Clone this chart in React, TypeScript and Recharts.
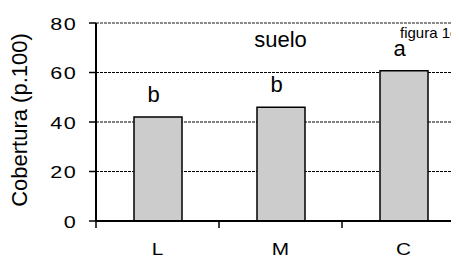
import React from 'react';
import { BarChart, Bar, XAxis, YAxis, CartesianGrid, LabelList, ReferenceDot } from 'recharts';

const categories = ['L', 'M', 'C'];
const cobertura = [42, 46, 60.7];
const letras = ['b', 'b', 'a'];
const yTicks = [0, 20, 40, 60, 80];
const yLabel = 'Cobertura (p.100)';
const panelTitle = 'suelo';
const figureTag = 'figura 1c';

const data = categories.map((c, i) => ({ cat: c, value: cobertura[i], letra: letras[i] }));

const FONT = '"Liberation Sans", Arial, sans-serif';

const YTick = (props: any) => {
  const { x, y, payload } = props;
  return (
    <g transform={`translate(${x},${y})`}>
      <text
        transform="scale(1.35,1)"
        textAnchor="end"
        dy={6.6}
        fontSize={16}
        letterSpacing={1}
        fontFamily={FONT}
        fill="#000"
      >
        {payload.value}
      </text>
    </g>
  );
};

const CatTick = (props: any) => {
  const { x, y, payload } = props;
  const off = payload && typeof payload.offset === 'number' ? payload.offset : 61.5;
  return (
    <g>
      <line x1={x - off} x2={x - off} y1={y} y2={y + 7} stroke="#000" strokeWidth={1.5} />
      <g transform={`translate(${x},${y + 33.5})`}>
        <text transform="scale(1.3,1)" textAnchor="middle" fontSize={16} fontFamily={FONT} fill="#000">
          {payload.value}
        </text>
      </g>
    </g>
  );
};

const renderLetter = (props: any) => {
  const { x, y, width, value } = props;
  return (
    <text
      x={Number(x) + Number(width) / 2 - 4.5}
      y={Number(y) - 15}
      textAnchor="middle"
      fontSize={22}
      fontFamily={FONT}
      fill="#000"
    >
      {value}
    </text>
  );
};

const gridLine = (props: any) => {
  const { x1, x2, y1, y2 } = props;
  const isTop = y1 <= 16;
  return (
    <line
      key={`g-${y1}`}
      x1={x1}
      x2={x2}
      y1={y1}
      y2={y2}
      stroke={isTop ? '#8c8c8c' : '#000'}
      strokeWidth={isTop ? 2 : 1}
      strokeDasharray="3 1"
    />
  );
};

export default function App() {
  return (
    <div style={{ width: 451, height: 249, overflow: 'hidden' }}>
      <BarChart
        width={480}
        height={249}
        data={data}
        margin={{ top: 15, right: 23, left: 0, bottom: 0 }}
        style={{ fontFamily: FONT }}
      >
        <CartesianGrid vertical={false} horizontal={gridLine} />
        <XAxis
          dataKey="cat"
          height={36}
          interval={0}
          axisLine={{ stroke: '#000', strokeWidth: 2 }}
          tickLine={false}
          tickSize={0}
          tickMargin={0}
          tick={<CatTick />}
        />
        <YAxis
          domain={[0, 80]}
          ticks={yTicks}
          width={88}
          axisLine={{ stroke: '#000', strokeWidth: 2 }}
          tickLine={{ stroke: '#000', strokeWidth: 1.5 }}
          tickSize={7}
          tickMargin={12}
          tick={<YTick />}
          label={{
            content: (p: any) => {
              const vb = p.viewBox || { x: 0, y: 15, width: 88, height: 198 };
              const cx = vb.x + 19;
              const cy = vb.y + vb.height / 2 - 2;
              return (
                <text
                  x={cx}
                  y={cy}
                  transform={`rotate(-90, ${cx}, ${cy})`}
                  textAnchor="middle"
                  fontSize={22}
                  fontFamily={FONT}
                  fill="#000"
                >
                  {yLabel}
                </text>
              );
            },
          }}
        />
        <Bar
          dataKey="value"
          fill="#cccccc"
          stroke="#000"
          strokeWidth={1.5}
          barSize={48}
          isAnimationActive={false}
        >
          <LabelList dataKey="letra" content={renderLetter} />
        </Bar>
        <ReferenceDot
          x="M"
          y={70.4}
          r={1}
          fill="none"
          stroke="none"
          label={{
            content: (p: any) => {
              const vb = p.viewBox;
              const cx = vb.x + vb.width / 2;
              const cy = vb.y + vb.height / 2;
              return (
                <text x={cx} y={cy} textAnchor="middle" fontSize={22} fontFamily={FONT} fill="#000">
                  {panelTitle}
                </text>
              );
            },
          }}
        />
        <ReferenceDot
          x="C"
          y={74.06}
          r={1}
          fill="none"
          stroke="none"
          label={{
            content: (p: any) => {
              const vb = p.viewBox;
              const cx = vb.x + vb.width / 2;
              const cy = vb.y + vb.height / 2;
              return (
                <text x={cx - 3.5} y={cy} textAnchor="start" fontSize={15} fontFamily={FONT} fill="#000">
                  {figureTag}
                </text>
              );
            },
          }}
        />
      </BarChart>
    </div>
  );
}
